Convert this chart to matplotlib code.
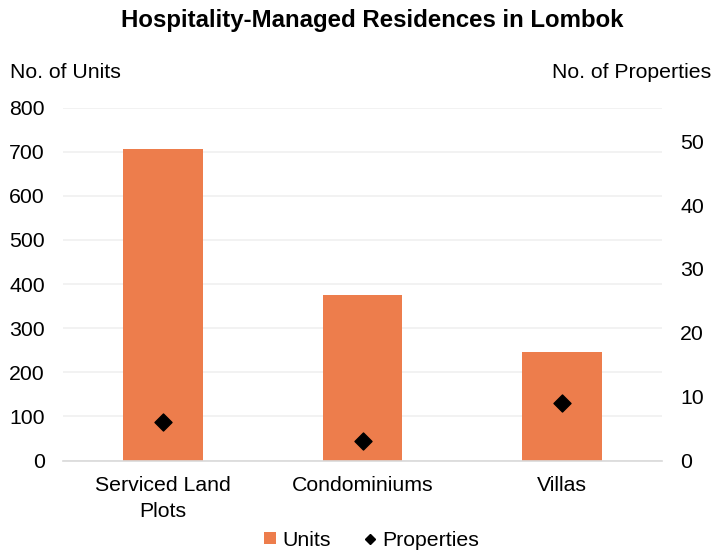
import matplotlib
matplotlib.use("Agg")
import matplotlib.pyplot as plt
from matplotlib.lines import Line2D
from matplotlib.patches import Patch

plt.rcParams['font.family'] = ['Liberation Sans', 'DejaVu Sans']

categories = ["Serviced Land\nPlots", "Condominiums", "Villas"]
units = [705, 376, 247]
properties = [6, 3, 9]

fs = 15.3
fig = plt.figure(figsize=(7.23, 5.54), dpi=100)
ax = fig.add_axes([63/723, 1-460.5/554, 599/723, 353/554])
x = list(range(len(categories)))
ax.bar(x, units, width=0.4, color='#ED7D4C', zorder=2)
ax.set_xlim(-0.5, 2.5)
ax.set_ylim(0, 800)
ax.set_yticks(range(0, 801, 100))
ax.set_xticks(x)
ax.set_xticklabels(categories, linespacing=1.45)
ax.grid(axis='y', color='#F0F0F0', linewidth=1.2, zorder=0)
for s in ['top', 'right', 'left']:
    ax.spines[s].set_visible(False)
ax.spines['bottom'].set_color('#D9D9D9')
ax.spines['bottom'].set_linewidth(1.2)
ax.tick_params(axis='both', length=0, labelsize=fs, colors='black')
ax.tick_params(axis='y', pad=13)
ax.tick_params(axis='x', pad=11)

ax2 = ax.twinx()
ax2.scatter(x, properties, marker='D', s=75, color='black', zorder=3)
ax2.set_ylim(0, 55.3)
ax2.set_yticks(range(0, 51, 10))
for s in ax2.spines.values():
    s.set_visible(False)
ax2.tick_params(axis='y', length=0, labelsize=fs, pad=13)

fig.text(372/723, 1-20/554, "Hospitality-Managed Residences in Lombok", ha='center', va='center',
         fontsize=17.3, fontweight='bold')
fig.text(10/723, 1-72/554, "No. of Units", ha='left', va='center', fontsize=fs)
fig.text(711/723, 1-72/554, "No. of Properties", ha='right', va='center', fontsize=fs)

handles = [Patch(facecolor='#ED7D4C', edgecolor='none', label='Units'),
           Line2D([0], [0], marker='D', color='none', markerfacecolor='black',
                  markeredgecolor='black', markersize=5, label='Properties')]
fig.legend(handles=handles, loc='center', bbox_to_anchor=(371.5/723, 1-540/554), ncol=2,
           frameon=False, fontsize=fs, handlelength=0.55, handleheight=0.55,
           handletextpad=0.3, columnspacing=1.55)

fig.savefig("out.png", dpi=100)
